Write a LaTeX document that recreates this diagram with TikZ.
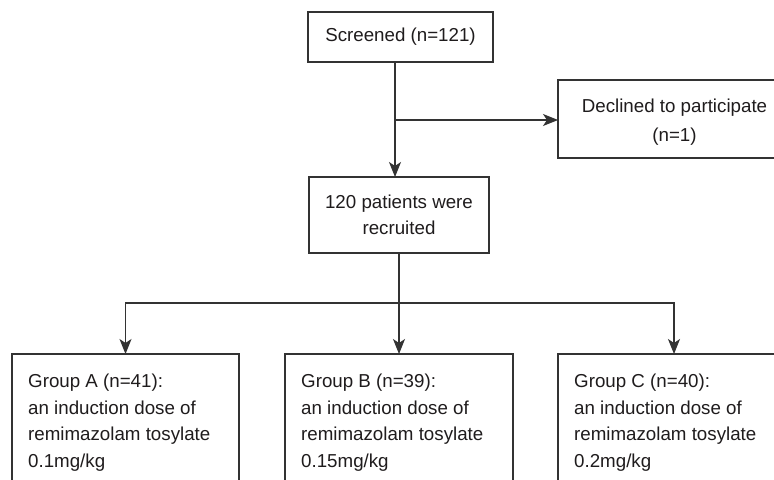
\documentclass[tikz,border=0pt]{standalone}
\usepackage{fontspec}
\setmainfont{Liberation Sans}
\usetikzlibrary{arrows.meta}
\definecolor{linegray}{HTML}{333333}
\definecolor{textgray}{HTML}{1F1C1D}
\begin{document}
\begin{tikzpicture}[x=1bp,y=-1bp,
  box/.style={draw=linegray, line width=1.1bp, inner sep=0pt, outer sep=0pt, fill=white},
  txt/.style={font=\fontsize{18.8}{26.7}\selectfont, text=textgray, align=center},
  ltxt/.style={font=\fontsize{18.8}{26.7}\selectfont, text=textgray, align=left, inner sep=0pt, anchor=north west},
  arr/.style={draw=linegray, line width=1.1bp, -{Stealth[length=15bp,width=12bp,inset=4bp]}},
  ln/.style={draw=linegray, line width=1.1bp}]
\clip (0,0) rectangle (774,480);
\fill[white] (0,0) rectangle (774,480);

% boxes
\node[box, txt, minimum width=185bp, minimum height=50bp] (screened) at (400.5,37) {Screened (n=121)};
\node[box, minimum width=233bp, minimum height=78bp] (decline) at (674.5,119) {};
\node[txt, inner sep=0pt, font=\fontsize{18.8}{29.5}\selectfont] (tdec) at (674.5,122) {Declined to participate\\(n=1)};
\node[box, txt, minimum width=180bp, minimum height=76bp] (recruited) at (399,215) {120 patients were\\recruited};

\node[box, minimum width=227bp, minimum height=146bp] (gA) at (125.5,427) {};
\node[box, minimum width=228bp, minimum height=146bp] (gB) at (399,427) {};
\node[box, minimum width=232bp, minimum height=146bp] (gC) at (674,427) {};

\node[ltxt] (tA) at ([xshift=16bp,yshift=-19.8bp]gA.north west) {Group A (n=41):\\an induction dose of\\remimazolam tosylate\\0.1mg/kg};
\node[ltxt] (tB) at ([xshift=16bp,yshift=-19.8bp]gB.north west) {Group B (n=39):\\an induction dose of\\remimazolam tosylate\\0.15mg/kg};
\node[ltxt] (tC) at ([xshift=16bp,yshift=-19.8bp]gC.north west) {Group C (n=40):\\an induction dose of\\remimazolam tosylate\\0.2mg/kg};

% connectors
\coordinate (br) at (395,120);
\draw[arr] (screened.south -| br) -- (recruited.north -| br);
\draw[arr] (br) -- (decline.west |- br);

\coordinate (split) at (399,303);
\draw[ln] (recruited.south -| split) -- (split);
\draw[arr] (split) -| (gA.north);
\draw[arr] (split) -- (gB.north -| split);
\draw[arr] (split) -| (gC.north);
\end{tikzpicture}
\end{document}
